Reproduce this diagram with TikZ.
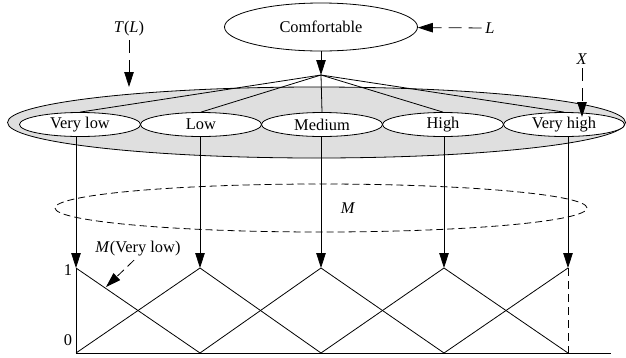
\documentclass[tikz,border=0pt]{standalone}
\usepackage{fontspec}
\setmainfont{Liberation Serif}
\usetikzlibrary{shapes.geometric, arrows.meta}

\begin{document}
\begin{tikzpicture}[x=1pt, y=-1pt, node distance=121pt, line width=0.8pt,
    >={Triangle[length=15pt, width=9.5pt]}, font=\fontsize{16.4}{19}\selectfont]
    \tikzstyle{linguistic} = [ellipse, draw, fill=white, inner sep=0pt, minimum width=193pt, minimum height=48pt]
    \tikzstyle{termset} = [ellipse, draw, fill=gray!25, inner sep=0pt, minimum width=618pt, minimum height=71pt]
    \tikzstyle{term} = [ellipse, draw, fill=white, inner sep=0pt, minimum width=121pt, minimum height=24pt]
    \tikzstyle{meaning} = [ellipse, draw, dash pattern=on 7pt off 4pt, inner sep=0pt, minimum width=532pt, minimum height=48pt]
    \tikzstyle{pointer} = [->, dash pattern=on 13pt off 7pt]
    \useasboundingbox (0,0) rectangle (626,357);

    % Linguistic variable and term set
    \node [linguistic] (comfortable) at (321,27) {Comfortable};
    \coordinate (apex) at (321,75);
    \node [termset] (terms) at (316.5,122.5) {};
    \node [term] (verylow) at (80,124.5) {Very low};
    \node [term, right of=verylow] (low) {Low};
    \node [term, right of=low] (medium) {Medium};
    \node [term, right of=medium] (high) {High};
    \node [term, right of=high] (veryhigh) {Very high};

    % Semantic rule
    \node [meaning] (semantic) at (321,208) {};
    \node (semanticlabel) at (348,208) {\textit{M}};

    % Membership functions
    \coordinate (peak1) at (76,268);
    \coordinate (peak2) at (200,268);
    \coordinate (peak3) at (321,268);
    \coordinate (peak4) at (444,268);
    \coordinate (peak5) at (568,268);
    \coordinate (base1) at (76,353);
    \coordinate (base2) at (200,353);
    \coordinate (base3) at (321,353);
    \coordinate (base4) at (444,353);
    \coordinate (base5) at (568,353);
    \coordinate (axisend) at (611,353);
    \node (one) at (68,270) {1};
    \node (zero) at (68,340) {0};

    % Connections
    \draw [->] (comfortable) -- (apex);
    \draw (apex) -- (verylow.north);
    \draw (apex) -- (low.north);
    \draw (apex) -- (medium.north);
    \draw (apex) -- (high.north);
    \draw (apex) -- (veryhigh.north);

    \draw [->] (verylow.south -| peak1) -- (peak1);
    \draw [->] (low.south -| peak2) -- (peak2);
    \draw [->] (medium.south -| peak3) -- (peak3);
    \draw [->] (high.south -| peak4) -- (peak4);
    \draw [->] (veryhigh.south -| peak5) -- (peak5);

    \draw (peak1) -- (base1) -- (axisend);
    \draw (peak1) -- (base2);
    \draw (base1) -- (peak2) -- (base3);
    \draw (base2) -- (peak3) -- (base4);
    \draw (base3) -- (peak4) -- (base5);
    \draw (base4) -- (peak5);
    \draw [dash pattern=on 8pt off 5pt] (peak5) -- (base5);

    % Labels
    \node (tl) at (129,29) {\textit{T}(\textit{L})};
    \coordinate (tltip) at (129,87);
    \draw [pointer] (tl) -- (tltip);
    \node (l) at (490,28) {\textit{L}};
    \draw [pointer] (l) -- (comfortable);
    \node (x) at (582,59) {\textit{X}};
    \coordinate (xtip) at (582,117);
    \draw [pointer] (x) -- (xtip);
    \node (mvl) at (138,249) {\textit{M}(Very low)};
    \coordinate (mvltip) at (106,287);
    \draw [pointer, dash pattern=on 9pt off 5pt] (mvl.south) ++(-4,0) -- (mvltip);
\end{tikzpicture}
\end{document}
